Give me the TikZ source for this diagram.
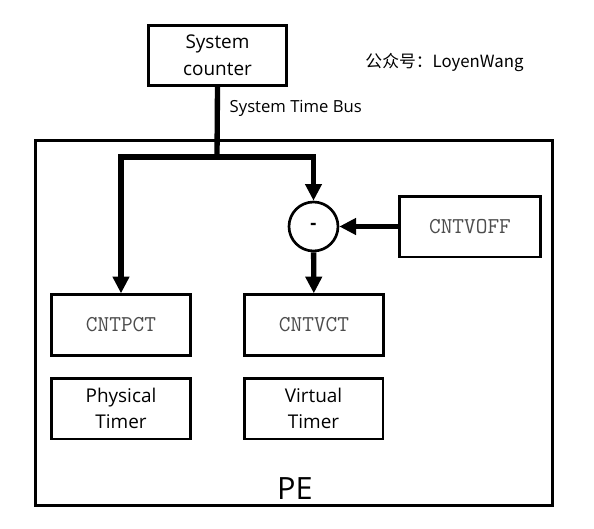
\documentclass[tikz,border=0pt]{standalone}
\usepackage{fontspec}
\setmainfont{Open Sans}
\newfontfamily\cjkfont{Noto Sans CJK SC}
\usetikzlibrary{arrows.meta}
\tikzset{
  regbox/.style={draw,line width=2pt,inner sep=0pt,minimum width=104pt,minimum height=45.5pt,align=center,font=\fontsize{14.2}{20}\selectfont},
  regname/.style={regbox,font=\ttfamily\fontsize{17}{20}\selectfont,text=black!70},
  busline/.style={line width=4pt,>={Triangle[length=12.5pt,width=12pt]}}
}
\begin{document}
\begin{tikzpicture}[x=0.75pt,y=-0.75pt]
\useasboundingbox (0,0) rectangle (594,529);

\node [regbox,minimum width=103.5pt,minimum height=45pt] (sysc) at (217.5,55.5) {System\\counter};
\node [font=\cjkfont\fontsize{12.6}{14}\selectfont] (wm) at (444.5,62) {公众号：LoyenWang};
\node [anchor=west,font=\fontsize{12.5}{14}\selectfont] (buslbl) at (225,108) {System Time Bus};

\node [draw,line width=2pt,minimum width=387.75pt,minimum height=273.75pt] (pe) at (294,323) {};
\node [font=\fontsize{23}{27}\selectfont] (pelbl) at (295,489) {PE};

\node [draw,circle,line width=2pt,minimum size=36.75pt,inner sep=0pt,font=\bfseries\fontsize{14}{16}\selectfont] (sub) at (313.5,226.5) {-};
\node [regname,minimum width=106pt] (cntvoff) at (470,226.5) {CNTVOFF};
\node [regname] (cntpct) at (121,325) {CNTPCT};
\node [regname] (cntvct) at (314,325) {CNTVCT};
\node [regbox] (physt) at (121,408.5) {Physical\\Timer};
\node [regbox] (virtt) at (313.5,408.5) {Virtual\\Timer};

\coordinate (split) at (217,157);
\draw [busline] (sysc.south) -- (split);
\draw [busline,->] (split) -| (cntpct.north);
\draw [busline,->] (split) -| (sub.north);
\draw [busline,->] (sub) -- (cntvct);
\draw [busline,->] (cntvoff) -- (sub);

\end{tikzpicture}
\end{document}
